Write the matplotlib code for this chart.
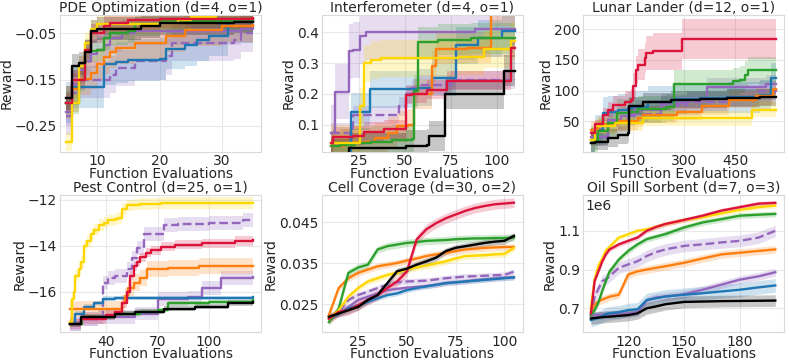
import numpy as np
import matplotlib
matplotlib.use("Agg")
import matplotlib.pyplot as plt

plt.rcParams["font.family"] = ["DejaVu Sans"]
plt.rcParams["font.size"] = 10
plt.rcParams["text.color"] = "#262626"
plt.rcParams["axes.labelcolor"] = "#262626"
plt.rcParams["xtick.color"] = "#262626"
plt.rcParams["ytick.color"] = "#262626"

colors = {"red": "#dc143c", "yellow": "#ffd700", "green": "#2ca02c", "orange": "#ff7f0e",
          "blue": "#1f77b4", "purple": "#9467bd", "dashed": "#9467bd", "black": "black"}
order = ["purple", "dashed", "blue", "orange", "green", "yellow", "red", "black"]

titles = ["PDE Optimization (d=4, o=1)", "Interferometer (d=4, o=1)", "Lunar Lander (d=12, o=1)",
          "Pest Control (d=25, o=1)", "Cell Coverage (d=30, o=2)", "Oil Spill Sorbent (d=7, o=3)"]

# ---- PDE optimization (step curves)
pde_x = {
    "red": [5, 6, 8, 9, 11, 12, 15, 20, 35],
    "yellow": [5, 6, 7, 8, 9, 10, 20, 23, 25, 29, 35],
    "black": [5, 6, 7, 8, 9, 10, 17, 20, 32, 35],
    "green": [5, 7, 8, 10, 11, 12, 15, 16, 20, 35],
    "orange": [5, 6, 7, 9, 10, 11, 12, 13, 16, 21, 24, 30, 35],
    "blue": [5, 6, 11, 13, 15, 20, 21, 24, 26, 28, 31, 35],
    "purple": [5, 6, 7, 8, 9, 10, 11, 12, 14, 16, 33, 35],
    "dashed": [5, 6, 7, 12, 13, 16, 21, 22, 32, 33, 35],
}
pde_y = {
    "red": [-0.20, -0.15, -0.085, -0.05, -0.033, -0.028, -0.022, -0.018, -0.017],
    "yellow": [-0.285, -0.20, -0.12, -0.07, -0.04, -0.03, -0.028, -0.021, -0.015, -0.008, -0.008],
    "black": [-0.19, -0.12, -0.115, -0.09, -0.045, -0.04, -0.035, -0.028, -0.025, -0.025],
    "green": [-0.20, -0.15, -0.088, -0.085, -0.06, -0.05, -0.045, -0.03, -0.023, -0.02],
    "orange": [-0.20, -0.17, -0.148, -0.135, -0.117, -0.102, -0.09, -0.081, -0.07, -0.055, -0.042, -0.034, -0.032],
    "blue": [-0.20, -0.166, -0.117, -0.113, -0.108, -0.105, -0.083, -0.075, -0.065, -0.055, -0.025, -0.022],
    "purple": [-0.22, -0.16, -0.13, -0.11, -0.095, -0.085, -0.075, -0.06, -0.05, -0.045, -0.04, -0.035],
    "dashed": [-0.23, -0.18, -0.15, -0.14, -0.125, -0.11, -0.1, -0.07, -0.065, -0.05, -0.05],
}
pde_band = {"red": 0.02, "yellow": 0.02, "black": 0.025, "green": 0.025, "orange": 0.035,
            "blue": 0.045, "purple": 0.03, "dashed": 0.04}

# ---- Interferometer
int_x = {
    "purple": [10, 12, 20, 22, 26, 29, 88, 110],
    "yellow": [10, 26, 28, 32, 37, 79, 93, 108, 110],
    "blue": [10, 20, 21, 26, 31, 57, 65, 78, 90, 103, 110],
    "green": [10, 15, 23, 32, 43, 54, 55, 57, 68, 86, 110],
    "orange": [10, 17, 23, 34, 41, 46, 52, 55, 57, 65, 67, 84, 97, 110],
    "red": [10, 11, 22, 28, 39, 51, 54, 62, 73, 108, 110],
    "dashed": [10, 20, 22, 46, 47, 51, 54, 57, 75, 110],
    "black": [10, 20, 50, 51, 62, 63, 71, 72, 104, 110],
}
int_y = {
    "purple": [0.073, 0.208, 0.338, 0.343, 0.387, 0.40, 0.41, 0.41],
    "yellow": [0.04, 0.16, 0.30, 0.31, 0.315, 0.32, 0.345, 0.37, 0.37],
    "blue": [0.0, 0.005, 0.143, 0.143, 0.216, 0.22, 0.253, 0.357, 0.38, 0.405, 0.405],
    "green": [0.03, 0.035, 0.04, 0.045, 0.05, 0.055, 0.21, 0.368, 0.375, 0.38, 0.38],
    "orange": [0.03, 0.035, 0.045, 0.057, 0.075, 0.095, 0.10, 0.20, 0.20, 0.29, 0.347, 0.35, 0.47, 0.47],
    "red": [0.04, 0.062, 0.065, 0.078, 0.085, 0.197, 0.20, 0.214, 0.243, 0.35, 0.35],
    "dashed": [0.075, 0.075, 0.132, 0.135, 0.16, 0.20, 0.22, 0.23, 0.245, 0.25],
    "black": [0.005, 0.024, 0.025, 0.033, 0.035, 0.064, 0.065, 0.20, 0.275, 0.275],
}
int_band = {"purple": 0.09, "yellow": 0.06, "blue": 0.06, "green": 0.05, "orange": 0.05,
            "red": 0.03, "dashed": 0.03, "black": 0.05}

# ---- Lunar lander
lun_x = {
    "red": [27, 39, 63, 77, 92, 126, 145, 150, 160, 165, 184, 189, 208, 293, 571],
    "green": [27, 48, 77, 102, 135, 165, 247, 271, 445, 465, 479, 489, 571],
    "blue": [27, 39, 63, 77, 107, 135, 150, 194, 271, 348, 426, 523, 557, 571],
    "purple": [27, 77, 116, 155, 232, 310, 368, 540, 571],
    "dashed": [27, 77, 135, 232, 310, 426, 520, 571],
    "orange": [27, 48, 107, 165, 180, 280, 353, 431, 513, 561, 571],
    "yellow": [27, 39, 97, 180, 499, 571],
    "black": [27, 39, 77, 107, 135, 138, 180, 261, 348, 426, 523, 571],
}
lun_y = {
    "red": [31, 45, 61, 69, 77, 82, 85, 108, 134, 142, 153, 161, 164, 184, 184],
    "green": [20, 34, 47, 64, 66, 70, 73, 111, 115, 118, 126, 133, 133],
    "blue": [15, 36, 64, 66, 69, 72, 74, 82, 86, 88, 89, 93, 120, 120],
    "purple": [25, 53, 58, 69, 80, 85, 106, 110, 110],
    "dashed": [25, 50, 62, 77, 82, 90, 100, 102],
    "orange": [36, 45, 50, 55, 61, 66, 75, 85, 91, 102, 102],
    "yellow": [20, 42, 47, 55, 69, 69],
    "black": [15, 17, 23, 28, 31, 75, 82, 85, 86, 88, 89, 90],
}
lun_band = {"red": [6, 8, 10, 12, 15, 18, 18, 20, 22, 25, 25, 28, 30, 33, 33],
            "green": 22, "blue": 25, "purple": 15, "dashed": 15, "orange": 14, "yellow": 12, "black": 14}

# ---- Pest control
pest_x = {
    "yellow": [19, 20, 21, 22, 24, 25, 27, 29, 31, 33, 36, 39, 41, 45, 47, 49, 52, 56, 60, 66, 72, 80, 126],
    "dashed": [19, 25, 35, 38, 41, 45, 52, 55, 58, 62, 70, 74, 82, 100, 120, 126],
    "red": [19, 25, 40, 45, 49, 52, 54, 56, 58, 60, 63, 66, 72, 80, 96, 115, 126],
    "orange": [19, 47, 49, 51, 53, 56, 60, 64, 76, 94, 126],
    "purple": [19, 25, 35, 57, 70, 88, 96, 107, 126],
    "blue": [19, 22, 27, 33, 38, 45, 126],
    "green": [19, 26, 45, 60, 70, 76, 100, 126],
    "black": [19, 25, 45, 57, 74, 92, 111, 126],
}
pest_y = {
    "yellow": [-17.3, -16.3, -16.0, -15.3, -15.0, -14.7, -14.0, -13.8, -13.5, -13.3, -13.1, -13.0, -12.9,
               -12.85, -12.8, -12.4, -12.25, -12.22, -12.19, -12.17, -12.15, -12.14, -12.13],
    "dashed": [-17.4, -17.2, -17.1, -15.6, -15.4, -15.3, -15.0, -14.55, -14.1, -13.5, -13.5, -13.1, -13.05,
               -13.0, -12.9, -12.9],
    "red": [-17.4, -17.2, -17.0, -16.9, -16.5, -16.0, -15.3, -14.9, -14.7, -14.5, -14.3, -14.2, -14.04,
            -13.96, -13.9, -13.8, -13.75],
    "orange": [-16.75, -16.75, -16.5, -16.2, -15.85, -15.6, -15.4, -15.0, -14.98, -14.9, -14.9],
    "purple": [-17.4, -17.2, -17.1, -16.95, -16.3, -16.25, -15.85, -15.4, -15.37],
    "blue": [-17.4, -16.95, -16.65, -16.5, -16.3, -16.27, -16.25],
    "green": [-17.4, -17.1, -16.95, -16.87, -16.8, -16.5, -16.45, -16.36],
    "black": [-17.4, -17.1, -16.95, -16.87, -16.73, -16.65, -16.5, -16.43],
}
pest_band = {"yellow": 0.25, "dashed": 0.3, "red": 0.2, "orange": 0.35, "purple": 0.3,
             "blue": 0.1, "green": 0.1, "black": 0.12}

# ---- Cell coverage (dense curves)
cell_x = [10, 15, 20, 25, 30, 35, 40, 45, 50, 55, 60, 65, 70, 75, 80, 85, 90, 95, 100, 105]
cell_y = {
    "red": [0.0215, 0.0232, 0.0236, 0.0248, 0.0261, 0.0273, 0.0290, 0.0306, 0.0330, 0.0408,
            0.0433, 0.0448, 0.0460, 0.0469, 0.0478, 0.0485, 0.0490, 0.0494, 0.0496, 0.0498],
    "green": [0.0207, 0.0240, 0.0327, 0.0340, 0.0347, 0.0384, 0.0392, 0.0396, 0.0400, 0.0402,
              0.0405, 0.0406, 0.0407, 0.0409, 0.0410, 0.0411, 0.0411, 0.0412, 0.0412, 0.0413],
    "orange": [0.0224, 0.0290, 0.0314, 0.0327, 0.0335, 0.0343, 0.0347, 0.0351, 0.0357, 0.0362,
               0.0368, 0.0372, 0.0376, 0.0380, 0.0384, 0.0386, 0.0388, 0.0389, 0.0390, 0.0390],
    "black": [0.0220, 0.0228, 0.0236, 0.0244, 0.0261, 0.0273, 0.0302, 0.0331, 0.0337, 0.0347,
              0.0355, 0.0364, 0.0380, 0.0388, 0.0392, 0.0396, 0.0400, 0.0403, 0.0405, 0.0417],
    "yellow": [0.0215, 0.0236, 0.0269, 0.0290, 0.0306, 0.0314, 0.0322, 0.0327, 0.0335, 0.0340,
               0.0345, 0.0350, 0.0355, 0.0362, 0.0368, 0.0369, 0.0370, 0.0372, 0.0373, 0.0388],
    "dashed": [0.0215, 0.0232, 0.0261, 0.0273, 0.0281, 0.0290, 0.0298, 0.0304, 0.0306, 0.0307,
               0.0308, 0.0311, 0.0314, 0.0316, 0.0318, 0.0319, 0.0320, 0.0321, 0.0322, 0.0330],
    "blue": [0.0215, 0.0228, 0.0240, 0.0248, 0.0257, 0.0265, 0.0273, 0.0277, 0.0285, 0.0290,
             0.0294, 0.0298, 0.0302, 0.0304, 0.0306, 0.0308, 0.0310, 0.0312, 0.0314, 0.0316],
    "purple": [0.0220, 0.0228, 0.0244, 0.0261, 0.0269, 0.0277, 0.0285, 0.0288, 0.0291, 0.0293,
               0.0295, 0.0298, 0.0302, 0.0304, 0.0306, 0.0309, 0.0311, 0.0313, 0.0315, 0.0316],
}
cell_band = {"red": 0.0012, "green": 0.0009, "orange": 0.0008, "black": 0.0008, "yellow": 0.0008,
             "dashed": 0.0007, "blue": 0.0006, "purple": 0.0006}

# ---- Oil spill sorbent (values in millions)
oil_x = [100, 102, 104, 106, 108, 110, 115, 120, 125, 130, 135, 140, 150, 160, 170, 180, 190, 199]
oil_y = {
    "red": [0.674, 0.84, 0.89, 0.94, 0.978, 1.004, 1.03, 1.048, 1.065, 1.10, 1.12, 1.135, 1.156,
            1.178, 1.204, 1.222, 1.240, 1.244],
    "yellow": [0.70, 0.85, 0.92, 0.955, 0.998, 1.017, 1.065, 1.082, 1.10, 1.108, 1.12, 1.135, 1.156,
               1.17, 1.19, 1.208, 1.222, 1.23],
    "green": [0.665, 0.69, 0.73, 0.787, 0.84, 0.89, 0.952, 0.996, 1.03, 1.057, 1.07, 1.083, 1.117,
              1.143, 1.16, 1.178, 1.183, 1.187],
    "dashed": [0.655, 0.76, 0.80, 0.839, 0.85, 0.865, 0.909, 0.926, 0.943, 0.97, 0.99, 1.004, 1.022,
               1.03, 1.04, 1.048, 1.065, 1.10],
    "orange": [0.683, 0.72, 0.735, 0.745, 0.752, 0.76, 0.77, 0.874, 0.891, 0.90, 0.909, 0.917, 0.935,
               0.957, 0.978, 0.987, 0.996, 1.004],
    "purple": [0.665, 0.665, 0.665, 0.666, 0.667, 0.668, 0.670, 0.674, 0.68, 0.74, 0.756, 0.761, 0.773,
               0.796, 0.822, 0.848, 0.865, 0.886],
    "blue": [0.639, 0.645, 0.65, 0.66, 0.67, 0.674, 0.68, 0.691, 0.695, 0.743, 0.752, 0.761, 0.77,
             0.778, 0.787, 0.796, 0.808, 0.818],
    "black": [0.648, 0.65, 0.652, 0.654, 0.656, 0.657, 0.661, 0.665, 0.674, 0.70, 0.71, 0.721, 0.733,
              0.735, 0.737, 0.738, 0.739, 0.740],
}
oil_band = {"red": 0.012, "yellow": 0.012, "green": 0.015, "dashed": 0.03, "orange": 0.02,
            "purple": 0.02, "blue": 0.035, "black": 0.03}

xlims = [(4, 36.3), (4.9, 114.1), (3, 595), (13, 130.5), (6.2, 109.5), (95.8, 203.8)]
ylims = [(-0.306, -0.01), (0.0135, 0.456), (1, 223), (-17.75, -11.81), (0.0183, 0.0516), (0.578, 1.283)]
xticks = [[10, 20, 30], [25, 50, 75, 100], [150, 300, 450], [40, 70, 100], [25, 50, 75, 100], [120, 150, 180]]
yticks = [[-0.25, -0.15, -0.05], [0.1, 0.2, 0.3, 0.4], [50, 100, 150, 200], [-16, -14, -12],
          [0.025, 0.035, 0.045], [0.7, 0.9, 1.1]]

fig, axes = plt.subplots(2, 3, figsize=(7.89, 3.64), dpi=100)
fig.subplots_adjust(left=0.076, right=0.994, top=0.959, bottom=0.088, wspace=0.3, hspace=0.32)
axes = axes.ravel()


def draw(ax, xs, ys, bands, step):
    for k in order:
        x = np.array(xs[k] if isinstance(xs, dict) else xs, dtype=float)
        y = np.array(ys[k], dtype=float)
        b = np.broadcast_to(np.array(bands[k], dtype=float), y.shape)
        ls = "--" if k == "dashed" else "-"
        if step:
            ax.fill_between(x, y - b, y + b, step="post", color=colors[k], alpha=0.22, lw=0)
            ax.step(x, y, where="post", color=colors[k], lw=1.7, ls=ls)
        else:
            ax.fill_between(x, y - b, y + b, color=colors[k], alpha=0.22, lw=0)
            ax.plot(x, y, color=colors[k], lw=1.7, ls=ls)


draw(axes[0], pde_x, pde_y, pde_band, True)
draw(axes[1], int_x, int_y, int_band, True)
draw(axes[2], lun_x, lun_y, lun_band, True)
draw(axes[3], pest_x, pest_y, pest_band, True)
draw(axes[4], cell_x, cell_y, cell_band, False)
draw(axes[5], oil_x, oil_y, oil_band, False)

for i, ax in enumerate(axes):
    ax.set_title(titles[i], fontsize=10, pad=2)
    ax.set_xlim(xlims[i])
    ax.set_ylim(ylims[i])
    ax.set_xticks(xticks[i])
    ax.set_yticks(yticks[i])
    ax.set_xlabel("Function Evaluations", labelpad=-1)
    ax.set_ylabel("Reward", labelpad=1)
    ax.tick_params(length=0, pad=2, labelsize=10)
    ax.grid(True, color="#e8e8e8", lw=0.8)
    ax.set_axisbelow(True)
    for s in ax.spines.values():
        s.set_color("#d9d9d9")
        s.set_linewidth(0.8)

axes[5].text(0.01, 0.97, "1e6", transform=axes[5].transAxes, ha="left", va="top", fontsize=10, color="#262626")

plt.savefig("out.png", dpi=100)
